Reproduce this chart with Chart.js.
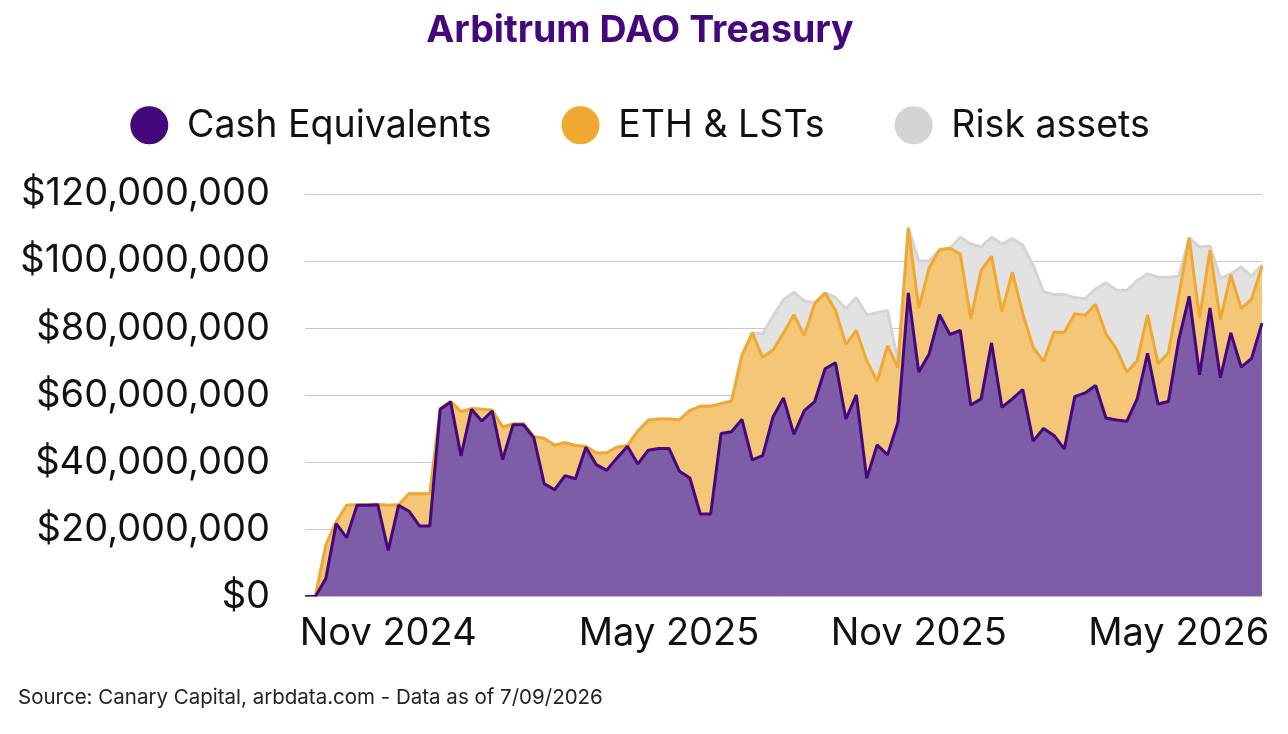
<!DOCTYPE html>
<html>
<head>
<meta charset="utf-8">
<title>Arbitrum DAO Treasury</title>
<script src="https://cdn.jsdelivr.net/npm/chart.js@4.4.1/dist/chart.umd.min.js"></script>
<style>
    html, body { margin: 0; padding: 0; background: #fff; }
    #wrap { width: 1288px; height: 734px; }
</style>
</head>
<body>
<div id="wrap"><canvas id="treasury"></canvas></div>
<script>
// weekly snapshots, values in $ millions
const weeks = [
    '2024-10-03', '2024-10-10', '2024-10-17', '2024-10-24', '2024-10-31', '2024-11-07', '2024-11-14', '2024-11-21',
    '2024-11-28', '2024-12-05', '2024-12-12', '2024-12-19', '2024-12-26', '2025-01-02', '2025-01-09', '2025-01-16',
    '2025-01-23', '2025-01-30', '2025-02-06', '2025-02-13', '2025-02-20', '2025-02-27', '2025-03-06', '2025-03-13',
    '2025-03-20', '2025-03-27', '2025-04-03', '2025-04-10', '2025-04-17', '2025-04-24', '2025-05-01', '2025-05-08',
    '2025-05-15', '2025-05-22', '2025-05-29', '2025-06-05', '2025-06-12', '2025-06-19', '2025-06-26', '2025-07-03',
    '2025-07-10', '2025-07-17', '2025-07-24', '2025-07-31', '2025-08-07', '2025-08-14', '2025-08-21', '2025-08-28',
    '2025-09-04', '2025-09-11', '2025-09-18', '2025-09-25', '2025-10-02', '2025-10-09', '2025-10-16', '2025-10-23',
    '2025-10-30', '2025-11-06', '2025-11-13', '2025-11-20', '2025-11-27', '2025-12-04', '2025-12-11', '2025-12-18',
    '2025-12-25', '2026-01-01', '2026-01-08', '2026-01-15', '2026-01-22', '2026-01-29', '2026-02-05', '2026-02-12',
    '2026-02-19', '2026-02-26', '2026-03-05', '2026-03-12', '2026-03-19', '2026-03-26', '2026-04-02', '2026-04-09',
    '2026-04-16', '2026-04-23', '2026-04-30', '2026-05-07', '2026-05-14', '2026-05-21', '2026-05-28', '2026-06-04',
    '2026-06-11', '2026-06-18', '2026-06-25', '2026-07-02', '2026-07-09'
];
const cashEquivalents = [
    0, 0, 5.3, 21.7, 17.5, 27.2, 27.2, 27.3, 13.7, 27.2, 25.4, 21.0, 21.0, 55.8, 58.0, 41.9,
    55.8, 52.3, 55.3, 40.8, 51.2, 51.2, 47.3, 33.6, 31.8, 36.0, 35.1, 44.5, 39.3, 37.6, 41.3, 44.8,
    39.5, 43.6, 44.1, 44.1, 37.3, 35.3, 24.6, 24.6, 48.6, 49.1, 52.8, 40.7, 42.0, 53.6, 59.2, 48.3,
    55.4, 58.1, 67.9, 69.7, 52.9, 60.1, 35.2, 45.2, 42.2, 51.9, 90.5, 66.9, 72.3, 84.0, 78.1, 79.3,
    57.1, 58.9, 75.6, 56.4, 58.9, 61.7, 46.3, 50.1, 48.0, 44.0, 59.6, 60.7, 62.9, 53.2, 52.6, 52.2,
    58.9, 72.5, 57.4, 58.1, 76.6, 89.5, 66.1, 86.0, 65.2, 78.6, 68.4, 71.0, 81.5
];
const ethAndLsts = [
    0, 0, 9.9, 0.5, 9.7, 0.1, 0.1, 0.1, 13.5, 0.1, 5.2, 9.6, 9.6, 0.2, 0.1, 13.2,
    0.2, 3.5, 0.2, 9.7, 0.2, 0.3, 0.3, 13.5, 13.3, 9.8, 9.9, 0.2, 3.5, 5.2, 3.2, 0.2,
    9.8, 8.9, 8.8, 8.8, 15.4, 20.1, 32.1, 32.1, 8.9, 9.1, 19.0, 37.9, 29.3, 19.9, 19.3, 35.7,
    22.4, 29.2, 22.6, 15.6, 22.2, 19.2, 35.1, 19.0, 32.6, 16.3, 19.4, 19.1, 25.6, 19.4, 25.7, 22.8,
    25.8, 38.3, 25.9, 28.6, 37.8, 22.6, 28.0, 20.0, 30.8, 34.8, 24.7, 23.1, 24.2, 25.1, 21.2, 14.7,
    11.4, 11.5, 12.0, 14.5, 13.2, 17.4, 16.9, 17.2, 17.4, 17.3, 17.4, 17.6, 17.0
];
const riskAssets = [
    0, 0, 0, 0, 0, 0, 0, 0, 0, 0, 0, 0, 0, 0, 0, 0,
    0, 0, 0, 0, 0, 0, 0, 0, 0, 0, 0, 0, 0, 0, 0, 0,
    0, 0, 0, 0, 0, 0, 0, 0, 0, 0, 0, 0, 7.0, 10.1, 10.0, 6.7,
    10.3, 0.3, 0, 3.8, 10.7, 9.8, 13.7, 20.4, 10.5, 2.1, 0, 14.0, 2.1, 0, 0, 5.0,
    22.2, 7.0, 5.6, 20.1, 10.0, 20.4, 24.4, 20.8, 11.2, 11.2, 4.8, 5.0, 4.6, 15.2, 17.6, 24.3,
    23.9, 12.2, 25.8, 22.6, 5.7, 0, 21.2, 1.3, 12.3, 0.3, 12.4, 6.9, 0.4
];
const tickDates = ['2024-11-28', '2025-06-05', '2025-11-20', '2026-05-14'];
const tickLabels = ['Nov 2024', 'May 2025', 'Nov 2025', 'May 2026'];

Chart.defaults.font.family = 'Inter, "Noto Sans", sans-serif';
Chart.defaults.color = '#111';

// empty box between legend and plot, keeps the legend up near the title
const legendGap = {
    id: 'legendGap',
    beforeInit(chart) {
        Chart.layouts.addBox(chart, {
            position: 'top',
            weight: 0,
            fullSize: true,
            options: {},
            left: 0, top: 0, right: 0, bottom: 0, width: 0, height: 0,
            isHorizontal() { return true; },
            update(maxWidth) {
                this.width = maxWidth;
                this.height = 40;
            },
            draw() {}
        });
    }
};

function areaSet(label, data, line, fillColor, fillTo) {
    return {
        label: label,
        data: data,
        borderColor: line,
        backgroundColor: fillColor,
        pointBackgroundColor: line,
        pointBorderWidth: 0,
        pointRadius: 0,
        pointHoverRadius: 0,
        borderWidth: 3,
        borderJoinStyle: 'bevel',
        tension: 0,
        fill: fillTo
    };
}

new Chart(document.getElementById('treasury'), {
    type: 'line',
    data: {
        labels: weeks,
        datasets: [
            areaSet('Cash Equivalents', cashEquivalents, '#44087c', '#7f5ca8', 'origin'),
            areaSet('ETH & LSTs', ethAndLsts, '#f0a830', '#f4c677', '-1'),
            areaSet('Risk assets', riskAssets, '#d4d4d4', '#e2e2e2', '-1')
        ]
    },
    plugins: [legendGap],
    options: {
        responsive: true,
        maintainAspectRatio: false,
        animation: false,
        events: [],
        layout: { padding: { left: 18, right: 26, top: 0, bottom: 0 } },
        plugins: {
            title: {
                display: true,
                text: 'Arbitrum DAO Treasury',
                color: '#44087c',
                font: { size: 37.5, weight: 'bold' },
                padding: { top: 8.5, bottom: -17 }
            },
            legend: {
                display: true,
                position: 'top',
                labels: {
                    usePointStyle: true,
                    pointStyle: 'circle',
                    boxHeight: 27,
                    pointStyleWidth: 38,
                    padding: 70,
                    color: '#111',
                    font: { size: 37.5 }
                }
            },
            subtitle: {
                display: true,
                position: 'bottom',
                align: 'start',
                text: 'Source: Canary Capital, arbdata.com - Data as of 7/09/2026',
                color: '#222',
                font: { size: 20.5 },
                padding: { top: 0, bottom: 24 }
            },
            tooltip: { enabled: false }
        },
        scales: {
            x: {
                grid: { display: false },
                border: { display: false },
                ticks: {
                    autoSkip: false,
                    maxRotation: 0,
                    minRotation: 0,
                    padding: 6,
                    color: '#111',
                    font: { size: 38 },
                    callback: function(value) {
                        return tickLabels[tickDates.indexOf(weeks[value])];
                    }
                },
                afterBuildTicks: function(axis) {
                    axis.ticks = axis.ticks.filter(t => tickDates.includes(weeks[t.value]));
                },
                afterFit: function(axis) {
                    axis.height = 89;
                }
            },
            y: {
                stacked: true,
                min: 0,
                max: 120,
                grid: { color: '#c8c8c8', drawTicks: false },
                border: { display: false },
                ticks: {
                    stepSize: 20,
                    padding: 35,
                    color: '#111',
                    font: { size: 38 },
                    callback: function(v) {
                        return '$' + (v * 1000000).toLocaleString('en-US');
                    }
                },
                afterFit: function(axis) {
                    axis.width = 287;
                }
            }
        }
    }
});
</script>
</body>
</html>
